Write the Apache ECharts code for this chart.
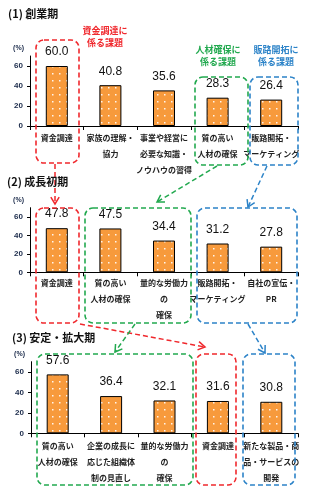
<!DOCTYPE html>
<html><head><meta charset="utf-8">
<script src="https://cdn.jsdelivr.net/npm/echarts@6/dist/echarts.min.js"></script>
<style>html,body{margin:0;padding:0;background:#fff}#c{width:324px;height:501px}</style>
</head><body><div id="c"></div>
<script>
// ---- data ----
const titles = ['(1) 創業期', '(2) 成長初期', '(3) 安定・拡大期'];
const stage1Categories = ['資金調達', '家族の理解・\n協力', '事業や経営に\n必要な知識・\nノウハウの習得', '質の高い\n人材の確保', '販路開拓・\nマーケティング'];
const stage1Values = [60.0, 40.8, 35.6, 28.3, 26.4];
const stage2Categories = ['資金調達', '質の高い\n人材の確保', '量的な労働力\nの\n確保', '販路開拓・\nマーケティング', '自社の宣伝・\nPR'];
const stage2Values = [47.8, 47.5, 34.4, 31.2, 27.8];
const stage3Categories = ['質の高い\n人材の確保', '企業の成長に\n応じた組織体\n制の見直し', '量的な労働力\nの\n確保', '資金調達', '新たな製品・商\n品・サービスの\n開発'];
const stage3Values = [57.6, 36.4, 32.1, 31.6, 30.8];
const yTickValues = [0, 20, 40, 60];
const yMax = 70;
const unitLabel = '(%)';
const groupLabels = ['資金調達に\n係る課題', '人材確保に\n係る課題', '販路開拓に\n係る課題'];

// ---- styles ----
const RED = '#F0282D', GREEN = '#22A94F', BLUE = '#2C83C8', ORANGE = '#F79A3C';
const FONT = '"Liberation Sans","Noto Sans CJK JP",sans-serif';
const JFONT = '"Noto Sans CJK JP","Liberation Sans",sans-serif';

const pc = document.createElement('canvas');
pc.width = 7; pc.height = 7;
const pctx = pc.getContext('2d');
pctx.fillStyle = ORANGE; pctx.fillRect(0, 0, 7, 7);
pctx.fillStyle = 'rgba(255,255,255,0.9)'; pctx.fillRect(3, 3, 1.5, 1.5);

const grids = [
  {left: 30, right: 26, top: 56, height: 70},
  {left: 30, right: 26, top: 207.7, height: 64.6},
  {left: 31, right: 26, top: 361.7, height: 71.6}
];
const cats = [stage1Categories, stage2Categories, stage3Categories];
const vals = [stage1Values, stage2Values, stage3Values];
const margins = [4, 3, 5];

const chart = echarts.init(document.getElementById('c'), null, {renderer: 'canvas'});

function arrow(x1, y1, x2, y2, color) {
  const a = Math.atan2(y2 - y1, x2 - x1), L = 8, s = 0.55;
  return [
    {type: 'line', shape: {x1, y1, x2, y2}, style: {stroke: color, lineWidth: 1.5, lineDash: [5, 3]}, silent: true},
    {type: 'polyline', shape: {points: [
      [x2 - L * Math.cos(a - s), y2 - L * Math.sin(a - s)], [x2, y2],
      [x2 - L * Math.cos(a + s), y2 - L * Math.sin(a + s)]]},
      style: {stroke: color, lineWidth: 1.5, fill: null}, silent: true}
  ];
}
function box(x, y, w, h, color) {
  return {type: 'rect', shape: {x, y, width: w, height: h, r: 8},
    style: {fill: null, stroke: color, lineWidth: 1.6, lineDash: [5, 3]}, silent: true, z: 100};
}
function txt(x, y, text, color, size, align) {
  return {type: 'text', x, y, style: {text, fill: color, font: 'bold ' + size + 'px ' + JFONT,
    align: align || 'center', verticalAlign: 'middle', lineHeight: 12}, silent: true, z: 100};
}

const option = {
  animation: false,
  backgroundColor: '#fff',
  grid: grids,
  xAxis: grids.map((g, i) => ({
    type: 'category', gridIndex: i, data: cats[i],
    axisLine: {lineStyle: {color: '#000', width: 1}},
    axisTick: {show: true, interval: 0, length: 4, lineStyle: {color: '#000'}},
    axisLabel: {interval: 0, fontSize: 8, lineHeight: 16, margin: margins[i], color: '#222', fontFamily: JFONT, fontWeight: 'bold'}
  })),
  yAxis: grids.map((g, i) => ({
    type: 'value', gridIndex: i, min: yTickValues[0], max: yMax, interval: yTickValues[1] - yTickValues[0],
    name: unitLabel, nameLocation: 'end', nameGap: 4,
    nameTextStyle: {align: 'right', verticalAlign: 'bottom', fontSize: 7, color: '#1a2a4a', fontWeight: 'bold', padding: [0, 6, 0, 0], fontFamily: FONT},
    axisLine: {show: true, lineStyle: {color: '#000', width: 1}},
    axisTick: {show: true, length: 3, lineStyle: {color: '#000'}},
    splitLine: {show: false},
    axisLabel: {fontSize: 8, color: '#1a2a4a', fontWeight: 'bold', margin: 7, fontFamily: FONT, showMaxLabel: false,
      formatter: v => yTickValues.includes(v) ? String(v) : ''}
  })),
  series: vals.map((v, i) => ({
    type: 'bar', xAxisIndex: i, yAxisIndex: i, data: v, barWidth: 22,
    itemStyle: {color: {image: pc, repeat: 'repeat'}, borderColor: '#000', borderWidth: 1},
    label: {show: true, position: 'top', distance: 8, fontSize: 12, color: '#111', fontFamily: FONT,
      formatter: p => p.value.toFixed(1)}
  })),
  graphic: [
    txt(8, 14, titles[0], '#111', 11, 'left'),
    txt(7, 182, titles[1], '#111', 11, 'left'),
    txt(12, 338, titles[2], '#111', 11, 'left'),
    txt(105, 37, groupLabels[0], RED, 9),
    txt(218, 56, groupLabels[1], GREEN, 9),
    txt(276, 56, groupLabels[2], BLUE, 9),
    box(36, 40, 43, 123, RED),
    box(195, 77, 53, 88, GREEN),
    box(250, 77, 48, 88, BLUE),
    box(36, 208, 43, 115, RED),
    box(85, 208, 106, 115, GREEN),
    box(197, 208, 100, 115, BLUE),
    box(37, 354, 156, 131, GREEN),
    box(196, 354, 40, 131, RED),
    box(243, 354, 52, 131, BLUE),
    ...arrow(55, 164, 55, 204, RED),
    ...arrow(217, 166, 157, 202, GREEN),
    ...arrow(267, 166, 248, 207, BLUE),
    ...arrow(80, 324, 205, 347, RED),
    ...arrow(135, 324, 115, 352, GREEN),
    ...arrow(248, 324, 265, 353, BLUE)
  ]
};
chart.setOption(option);
</script></body></html>
